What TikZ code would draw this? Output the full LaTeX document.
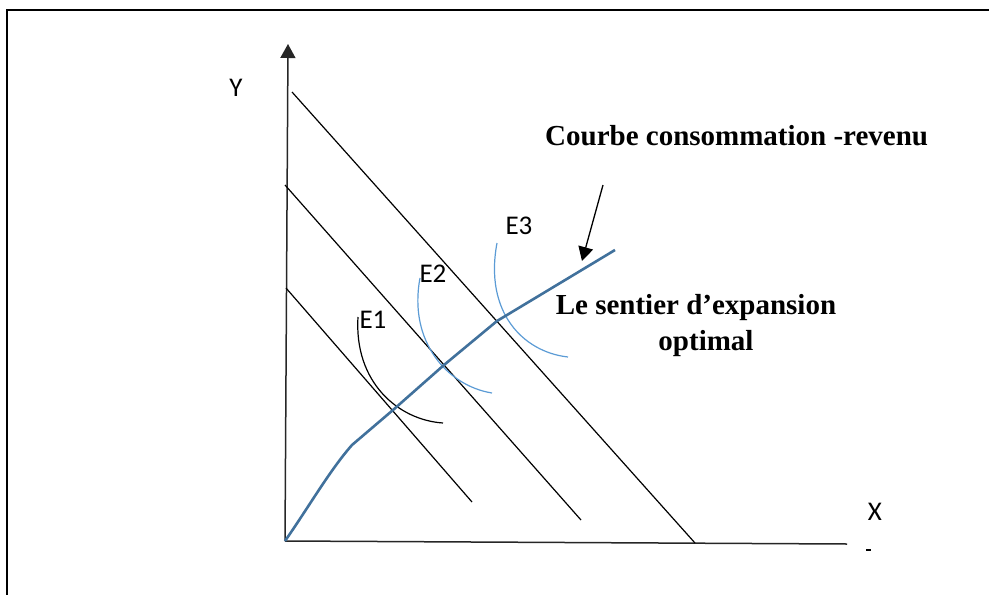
\documentclass[tikz,border=0pt]{standalone}
\usepackage{fontspec}
\setmainfont{Liberation Serif}
\newfontfamily\calibrifont{Carlito}
\usetikzlibrary{arrows.meta}
\definecolor{pathblue}{HTML}{41719C}
\definecolor{icblue}{HTML}{5B9BD5}
\tikzset{
  frameline/.style={line width=2pt, black},
  axisline/.style={line width=1.5pt, black!85},
  budget/.style={line width=1.2pt, black},
  sentier/.style={line width=2.6pt, pathblue},
  icblack/.style={line width=1.2pt, black},
  iclight/.style={line width=1.2pt, icblue},
  axislabel/.style={font=\calibrifont\fontsize{27}{30}\selectfont, inner sep=0pt},
  boldtext/.style={font=\bfseries\fontsize{29}{34}\selectfont, inner sep=0pt},
  tip/.style={-{Triangle[length=14pt,width=15pt]}}
}
\begin{document}
\begin{tikzpicture}[x=1pt,y=-1pt]
\useasboundingbox (0,0) rectangle (989,595);
% frame
\draw[frameline] (7,595) -- (7,10) -- (989,10);
% coordinates
\coordinate (O) at (285,541);
\coordinate (Ytop) at (288,44);
\coordinate (Xend) at (847,544);
\coordinate (B1a) at (292,92);  \coordinate (B1b) at (695,543);
\coordinate (B2a) at (285,185); \coordinate (B2b) at (581,520);
\coordinate (B3a) at (286,288); \coordinate (B3b) at (472,502);
\coordinate (Astart) at (603,185); \coordinate (Aend) at (582,261);
% axes
\draw[axisline, tip] (O) -- (Ytop);
\draw[axisline] (O) -- (Xend);
\draw[line width=1.2pt] (866,550) -- (871,550);
% budget lines
\draw[budget] (B1a) -- (B1b);
\draw[budget] (B2a) -- (B2b);
\draw[budget] (B3a) -- (B3b);
% indifference curves
\draw[icblack] (358,317) .. controls (354,382) and (398,420) .. (443,423);
\draw[iclight] (420,278) .. controls (408,342) and (448,386) .. (492,393);
\draw[iclight] (497,243) .. controls (484,312) and (523,352) .. (568,357);
% expansion path
\draw[sentier] (O) .. controls (310,505) and (330,470) .. (352,445) -- (393,410) -- (444,365) -- (497,321) -- (615,250);
% arrow
\draw[line width=1.3pt, tip] (Astart) -- (Aend);
% labels
\node[axislabel] (ylab) at (236,88) {Y};
\node[axislabel] (xlab) at (875,512) {X};
\node[axislabel] (e1) at (373,320) {E1};
\node[axislabel] (e2) at (433,274) {E2};
\node[axislabel] (e3) at (519,226) {E3};
\node[boldtext, anchor=base west] (t1) at (545,145) {Courbe consommation -revenu};
\node[boldtext, anchor=base] (t2) at (696,314) {Le sentier d’expansion};
\node[boldtext, anchor=base] (t3) at (706,350) {optimal};
\end{tikzpicture}
\end{document}
